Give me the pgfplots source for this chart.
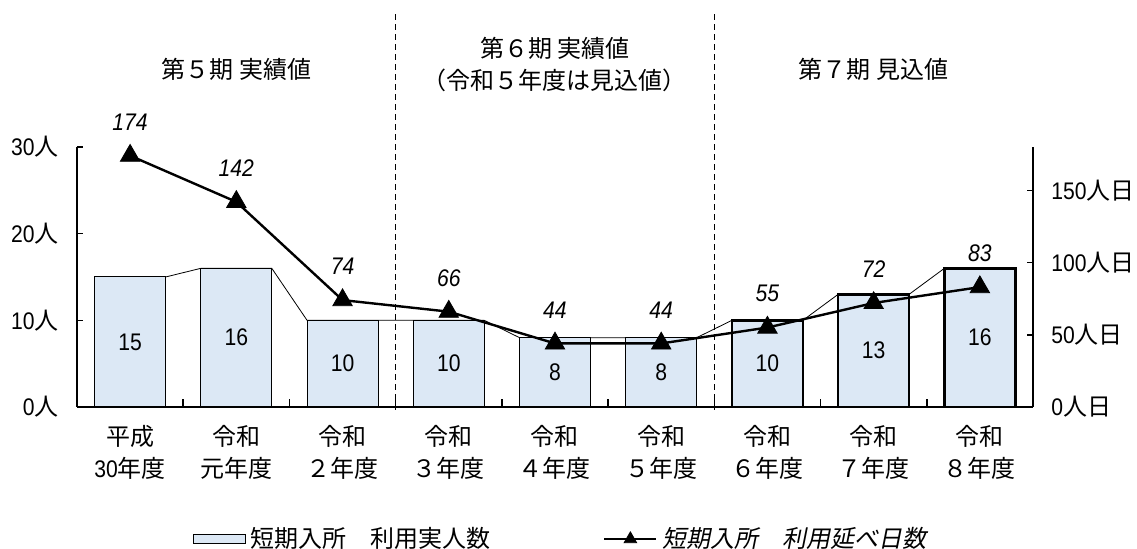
\documentclass[border=0pt]{standalone}
\usepackage{fontspec}
\usepackage{pgfplots}
\pgfplotsset{compat=1.18}
\usepackage{pgfplotstable}
\setmainfont{Noto Sans CJK JP}
\newfontfamily\nf[FakeStretch=0.88]{Liberation Sans}
\newfontfamily\jpit[FakeSlant=0.2]{Noto Sans CJK JP}
\definecolor{barblue}{RGB}{220,232,245}

\pgfplotstableread{
x bar line
0 15 174
1 16 142
2 10 74
3 10 66
4 8 44
5 8 44
6 10 55
7 13 72
8 16 83
}\data

\begin{document}
\fontsize{12}{14.5}\selectfont
\begin{tikzpicture}
\useasboundingbox (-38.5pt,-71pt) rectangle (530pt,203.5pt);
\begin{axis}[
 at={(0pt,0pt)}, anchor=south west,
 scale only axis, width=478pt, height=130pt,
 xmin=-0.5, xmax=8.5, ymin=0, ymax=30,
 axis x line*=bottom, axis y line*=left,
 axis line style={line width=0.9pt},
 xtick={0,...,8},
 xticklabels={{平成\\{\nf 30}年度},{令和\\元年度},{令和\\２年度},{令和\\３年度},{令和\\４年度},{令和\\５年度},{令和\\６年度},{令和\\７年度},{令和\\８年度}},
 xticklabel style={align=center, yshift=-5pt, font=\fontsize{12}{16}\selectfont},
 major x tick style={draw=none},
 minor xtick={0.5,1.5,2.5,3.5,4.5,5.5,6.5,7.5},
 minor x tick style={black, line width=0.8pt},
 minor tick length=4pt,
 xtick align=inside,
 ytick={0,10,20,30},
 yticklabels={{{\nf 0}人},{{\nf 10}人},{{\nf 20}人},{{\nf 30}人}},
 ytick align=inside,
 major tick length=3pt,
 y tick style={black, line width=0.8pt},
 yticklabel style={xshift=-5pt},
 clip=false,
 legend style={draw=none, fill=none, inner sep=0pt, nodes={inner sep=0pt},
   at={(0.1213,-0.508)}, anchor=west,
   /tikz/every odd column/.append style={column sep=2pt}},
]
\addplot[black, line width=0.4pt, mark=none, forget plot] coordinates {
 (0.334,15) (0.666,16) (1.334,16) (1.666,10) (2.334,10) (2.666,10) (3.334,10) (3.666,8)
 (4.334,8) (4.666,8) (5.334,8) (5.666,10) (6.334,10) (6.666,13) (7.334,13) (7.666,16)};
\addplot[ybar, bar width=35.5pt, bar shift=0pt, fill=barblue, draw=black, line width=0.5pt,
 restrict x to domain=0:5,
 legend image code/.code={\draw[fill=barblue,draw=black,line width=0.5pt] (0pt,-2.25pt) rectangle (26pt,2.25pt);}]
 table[x=x,y=bar]{\data};
\addlegendentry{短期入所　利用実人数}
\addplot[ybar, bar width=35.5pt, bar shift=0pt, fill=barblue, draw=black, line width=1.3pt,
 restrict x to domain=6:8, forget plot] table[x=x,y=bar]{\data};
\addplot[draw=none, mark=none, forget plot, nodes near coords={\nf\pgfplotspointmeta},
 point meta=explicit symbolic,
 every node near coord/.append style={anchor=center}]
 table[x=x, y expr=\thisrow{bar}/2, meta=bar]{\data};
\draw[black, line width=0.8pt, dash pattern=on 3pt off 2pt] (axis cs:2.5,-0.3) -- (axis cs:2.5,45.6);
\draw[black, line width=0.8pt, dash pattern=on 3pt off 2pt] (axis cs:5.5,-0.3) -- (axis cs:5.5,45.6);
\node at (axis cs:1,38.9) {第５期 実績値};
\node at (axis cs:4,41.4) {第６期 実績値};
\node at (axis cs:4,37.7) {（令和５年度は見込値）};
\node at (axis cs:7,38.9) {第７期 見込値};
\end{axis}
\begin{axis}[
 at={(0pt,0pt)}, anchor=south west,
 scale only axis, width=478pt, height=130pt,
 xmin=-0.5, xmax=8.5, ymin=0, ymax=180,
 axis y line*=right, axis x line=none,
 axis line style={line width=0.9pt},
 ytick={0,50,100,150},
 yticklabels={{{\nf 0}人日},{{\nf 50}人日},{{\nf 100}人日},{{\nf 150}人日}},
 ytick align=inside,
 major tick length=3pt,
 y tick style={black, line width=0.8pt},
 yticklabel style={xshift=5pt},
 clip=false,
 legend style={draw=none, fill=none, inner sep=0pt, nodes={inner sep=0pt},
   at={(0.550,-0.508)}, anchor=west,
   /tikz/every odd column/.append style={column sep=2.5pt}},
]
\addplot[black, line width=1.2pt, mark=triangle*, mark size=5.6pt, mark options={solid, line width=0.4pt},
 nodes near coords={\nf\itshape\pgfplotspointmeta}, point meta=explicit symbolic,
 every node near coord/.append style={anchor=south, yshift=8.5pt},
 legend image code/.code={\draw[black, line width=1.2pt, mark=triangle*, mark size=3.6pt, mark repeat=2, mark phase=2, mark options={line width=0.4pt}] plot coordinates {(0pt,0pt)(13pt,0pt)(26pt,0pt)};}]
 table[x=x, y=line, meta=line]{\data};
\addlegendentry{\jpit 短期入所　利用延べ日数}
\end{axis}
\end{tikzpicture}
\end{document}
